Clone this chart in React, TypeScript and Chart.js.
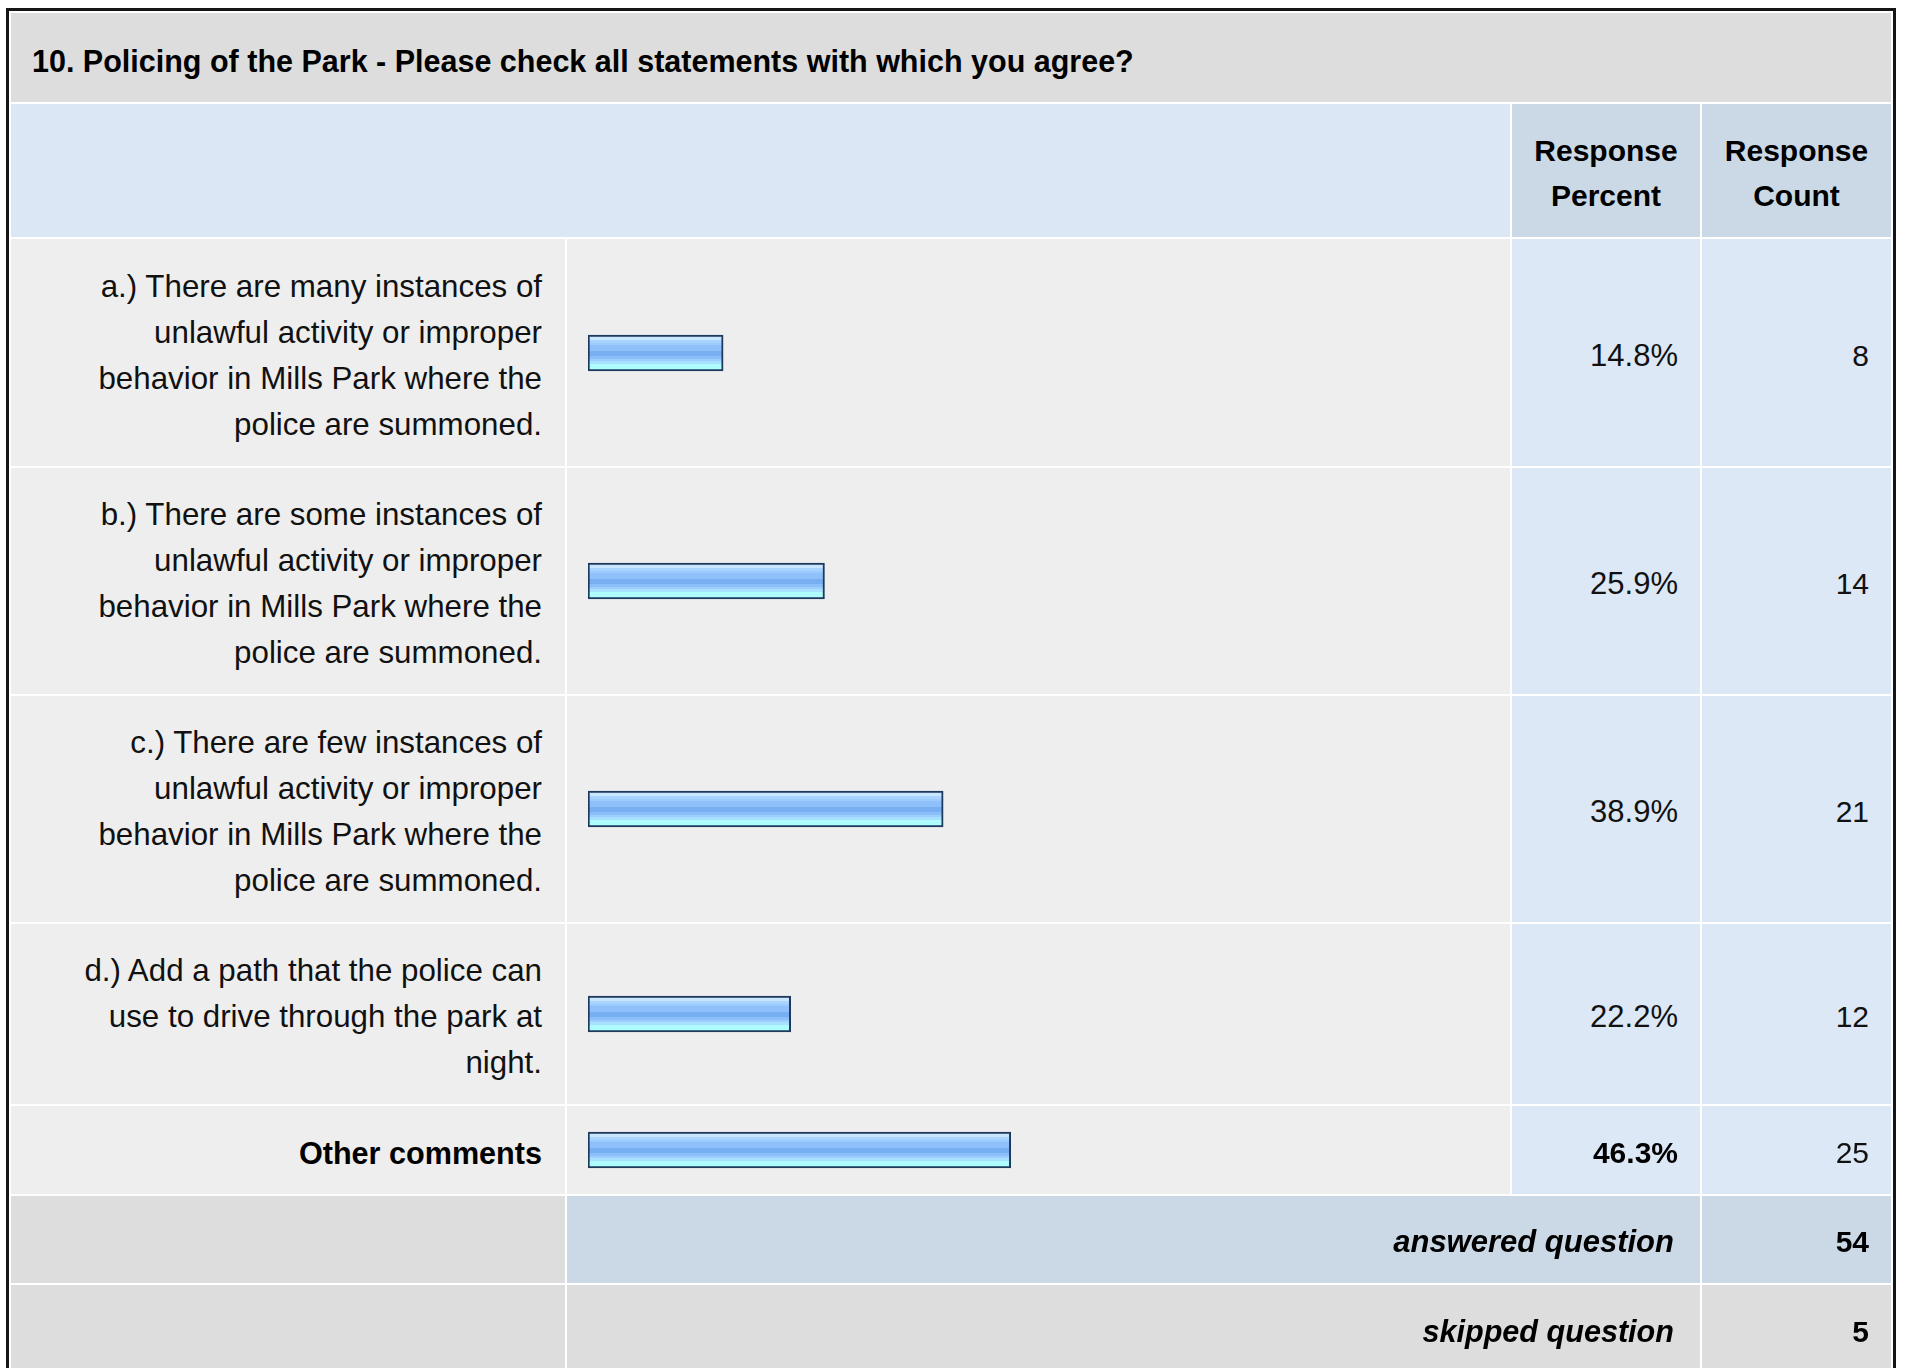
import React, { useEffect, useRef } from "react";
import { Chart, registerables } from "chart.js";

Chart.register(...registerables);

// ---------- data ----------
const TITLE = "10. Policing of the Park - Please check all statements with which you agree?";
const HEADER_PERCENT = ["Response", "Percent"];
const HEADER_COUNT = ["Response", "Count"];
const CATEGORIES: string[][] = [
  ["a.) There are many instances of", "unlawful activity or improper", "behavior in Mills Park where the", "police are summoned."],
  ["b.) There are some instances of", "unlawful activity or improper", "behavior in Mills Park where the", "police are summoned."],
  ["c.) There are few instances of", "unlawful activity or improper", "behavior in Mills Park where the", "police are summoned."],
  ["d.) Add a path that the police can", "use to drive through the park at", "night."],
  ["Other comments"],
];
const BOLD_CATEGORY = [false, false, false, false, true];
const PERCENTS = [14.8, 25.9, 38.9, 22.2, 46.3];
const COUNTS = [8, 14, 21, 12, 25];
const ANSWERED_LABEL = "answered question";
const SKIPPED_LABEL = "skipped question";
const ANSWERED = 54;
const SKIPPED = 5;
const AXIS_MIN = 0;
const AXIS_MAX = 100;

// ---------- layout / style ----------
const FONT = "'Liberation Sans', Arial, Helvetica, sans-serif";
const COLS = [554, 943, 188, 189];
const ROW_H = [89, 133, 227, 226, 226, 180, 88, 87, 88];
const BAR_CANVAS_W = 913;
const BAR_CANVAS_H = 44;

const C_TITLE = "#dddddd";
const C_HEAD_LIGHT = "#dbe7f5";
const C_HEAD_DARK = "#cbd8e6";
const C_ROW = "#eeeeee";
const C_VAL = "#dce8f5";
const C_GRAY = "#dddddd";

function BarCanvas({ value }: { value: number }) {
  const ref = useRef<HTMLCanvasElement | null>(null);
  useEffect(() => {
    if (!ref.current) return;
    const chart = new Chart(ref.current, {
      type: "bar",
      data: {
        labels: [""],
        datasets: [
          {
            data: [value],
            backgroundColor: (ctx: any) => {
              const ch = ctx.chart;
              const area = ch.chartArea;
              if (!area) return "#8ec0fa";
              const cy = (area.top + area.bottom) / 2;
              const h = 36;
              const g = ch.ctx.createLinearGradient(0, cy - h / 2, 0, cy + h / 2);
              const stops: [number, string][] = [
                [0, "#cae6ff"],
                [5, "#cae6ff"],
                [5, "#a8d4ff"],
                [7.7, "#a8d4ff"],
                [7.7, "#9bcbff"],
                [10.3, "#9bcbff"],
                [10.3, "#8fc0fa"],
                [15.7, "#8fc0fa"],
                [15.7, "#78aef2"],
                [21, "#78aef2"],
                [21, "#8bbffa"],
                [23.7, "#8bbffa"],
                [23.7, "#9dcefd"],
                [26.3, "#9dcefd"],
                [26.3, "#a8e0ff"],
                [29, "#a8e0ff"],
                [29, "#affcfe"],
                [36, "#affcfe"],
              ];
              stops.forEach(([p, c]) => g.addColorStop(p / h, c));
              return g;
            },
            borderColor: "#1d3a5c",
            borderWidth: 2,
            borderSkipped: false,
            barThickness: 36,
          } as any,
        ],
      },
      options: {
        indexAxis: "y",
        responsive: false,
        animation: false,
        events: [],
        layout: { padding: 0 },
        plugins: { legend: { display: false }, tooltip: { enabled: false }, title: { display: false } },
        scales: {
          x: { display: false, min: AXIS_MIN, max: AXIS_MAX },
          y: { display: false },
        },
      },
    });
    return () => chart.destroy();
  }, [value]);
  return <canvas ref={ref} width={BAR_CANVAS_W} height={BAR_CANVAS_H} style={{ display: "block" }} />;
}

const cell = (extra: React.CSSProperties): React.CSSProperties => ({
  display: "flex",
  alignItems: "center",
  boxSizing: "border-box",
  color: "#111",
  ...extra,
});

export default function App() {
  const items: React.ReactNode[] = [];
  // title
  items.push(
    <div key="title" style={cell({ gridColumn: "1 / span 4", background: C_TITLE, paddingLeft: 21, paddingTop: 7, fontWeight: "bold", fontSize: 30.5, color: "#000" })}>
      {TITLE}
    </div>
  );
  // header
  items.push(<div key="h0" style={cell({ gridColumn: "1 / span 2", background: C_HEAD_LIGHT })} />);
  [HEADER_PERCENT, HEADER_COUNT].forEach((lines, i) => {
    items.push(
      <div
        key={"h" + (i + 1)}
        style={cell({ background: C_HEAD_DARK, justifyContent: "center", textAlign: "center", fontWeight: "bold", fontSize: 30, lineHeight: "45px", color: "#000", paddingTop: 4 })}
      >
        <div>
          {lines.map((l, j) => (
            <div key={j}>{l}</div>
          ))}
        </div>
      </div>
    );
  });
  // data rows
  CATEGORIES.forEach((lines, i) => {
    const bold = BOLD_CATEGORY[i];
    items.push(
      <div
        key={"l" + i}
        style={cell({ background: C_ROW, justifyContent: "flex-end", textAlign: "right", paddingRight: 23, paddingTop: 6, fontSize: bold ? 30.6 : 31.3, lineHeight: "46px", fontWeight: bold ? "bold" : "normal", color: bold ? "#000" : "#111" })}
      >
        <div>
          {lines.map((l, j) => (
            <div key={j}>{l}</div>
          ))}
        </div>
      </div>
    );
    items.push(
      <div key={"b" + i} style={cell({ background: C_ROW, paddingLeft: 21 })}>
        <BarCanvas value={PERCENTS[i]} />
      </div>
    );
    items.push(
      <div key={"p" + i} style={cell({ background: C_VAL, justifyContent: "flex-end", paddingRight: 22, paddingTop: 6, fontSize: bold ? 30 : 31, fontWeight: bold ? "bold" : "normal", color: bold ? "#000" : "#111" })}>
        {PERCENTS[i].toFixed(1) + "%"}
      </div>
    );
    items.push(
      <div key={"c" + i} style={cell({ background: C_VAL, justifyContent: "flex-end", paddingRight: 22, paddingTop: 6, fontSize: 30 })}>
        {String(COUNTS[i])}
      </div>
    );
  });
  // answered
  items.push(<div key="a0" style={cell({ background: C_GRAY })} />);
  items.push(
    <div key="a1" style={cell({ gridColumn: "2 / span 2", background: C_HEAD_DARK, justifyContent: "flex-end", paddingRight: 26, paddingTop: 5, fontSize: 31, fontWeight: "bold", fontStyle: "italic", color: "#000" })}>
      {ANSWERED_LABEL}
    </div>
  );
  items.push(
    <div key="a2" style={cell({ background: C_HEAD_DARK, justifyContent: "flex-end", paddingRight: 22, paddingTop: 5, fontSize: 30, fontWeight: "bold", color: "#000" })}>
      {String(ANSWERED)}
    </div>
  );
  // skipped
  items.push(<div key="s0" style={cell({ background: C_GRAY })} />);
  items.push(
    <div key="s1" style={cell({ gridColumn: "2 / span 2", background: C_GRAY, justifyContent: "flex-end", paddingRight: 26, paddingTop: 5, fontSize: 30.6, fontWeight: "bold", fontStyle: "italic", color: "#000" })}>
      {SKIPPED_LABEL}
    </div>
  );
  items.push(
    <div key="s2" style={cell({ background: C_GRAY, justifyContent: "flex-end", paddingRight: 22, paddingTop: 5, fontSize: 30, fontWeight: "bold", color: "#000" })}>
      {String(SKIPPED)}
    </div>
  );

  return (
    <div style={{ position: "fixed", left: 0, top: 0, width: 1907, height: 1368, overflow: "hidden", background: "#fff", fontFamily: FONT }}>
      <div
        style={{
          position: "absolute",
          left: 6,
          top: 8,
          border: "3px solid #151515",
          padding: 2,
          background: "#fff",
          display: "grid",
          gap: 2,
          gridTemplateColumns: COLS.map((c) => c + "px").join(" "),
          gridTemplateRows: ROW_H.map((r) => r + "px").join(" "),
        }}
      >
        {items}
      </div>
    </div>
  );
}
